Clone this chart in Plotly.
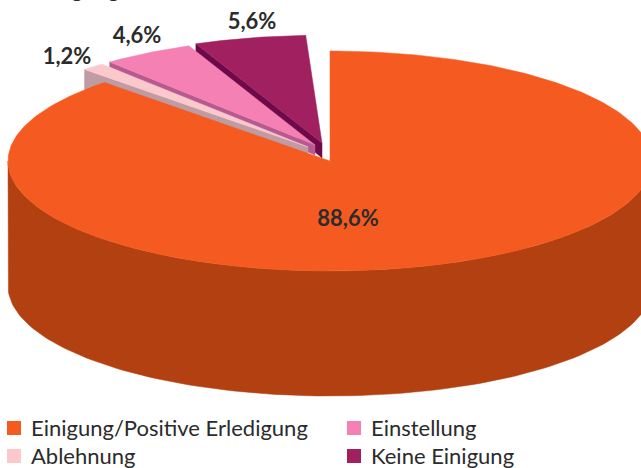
import numpy as np
import plotly.graph_objects as go

categories = ["Einigung/Positive Erledigung", "Ablehnung", "Einstellung", "Keine Einigung"]
values = [88.6, 1.2, 4.6, 5.6]
top_colors = ["#F55B20", "#FBC8CC", "#F580B4", "#A02060"]
side_colors = ["#B24010", "#BF9CA3", "#B65A90", "#6E0A4A"]

A, B = 322, 110           # ellipse radii
CX, CY = 330, 161         # centre of the main slice
DEPTH = 125               # height of the main slice
MAIN_K = 0.9893           # angular foreshortening of the main slice
PULLED_START = -2.9       # start angle of the exploded group
PULLED_B = 0.98           # slight flattening of the exploded slices
APEX = {1: (308, 147), 2: (315, 145), 3: (322, 143)}
WALL = {1: (20, 20), 2: (10, 5), 3: (15, 8)}   # wall height at apex, at outer end
LABEL_POS = [(348, 220), (67, 58), (137, 37), (252, 23)]


def arc(cx, cy, t0, t1, n=120, bscale=1.0):
    t = np.radians(np.linspace(t0, t1, n))
    return cx + A * np.sin(t), cy - B * bscale * np.cos(t)


def poly(fig, xs, ys, color):
    fig.add_trace(go.Scatter(x=list(xs), y=list(ys), mode="lines", fill="toself",
                             fillcolor=color, line=dict(color=color, width=0.5),
                             hoverinfo="skip", showlegend=False))


fig = go.Figure()

# exploded slices, back to front
end = PULLED_START
spans = {}
for i in (3, 2, 1):
    start = end
    end = start - values[i] * 3.6
    spans[i] = (start, end)
for i in (3, 2, 1):
    ax, ay = APEX[i]
    t0, t1 = spans[i]
    x, y = arc(ax, ay, t0, t1, 30, PULLED_B)
    d_apex, d_outer = WALL[i]
    poly(fig, [ax, x[-1], x[-1], ax, ax], [ay, y[-1], y[-1] + d_outer, ay + d_apex, ay], side_colors[i])
    poly(fig, np.r_[ax, x, ax], np.r_[ay, y, ay], top_colors[i])

# main slice
x, y = arc(CX, CY, 90, 270)
poly(fig, np.r_[x, x[::-1], x[0]], np.r_[y, (y + DEPTH)[::-1], y[0]], side_colors[0])
x, y = arc(CX, CY, 0, values[0] * 3.6 * MAIN_K, 300)
poly(fig, np.r_[CX, x, CX], np.r_[CY, y, CY], top_colors[0])

# value labels
fig.add_trace(go.Scatter(
    x=[p[0] for p in LABEL_POS], y=[p[1] for p in LABEL_POS], mode="text",
    text=[f"{v:.1f}%".replace(".", ",") for v in values],
    textposition="middle center",
    textfont=dict(family="Lato", size=22, color="#2b2b2b", weight="bold"),
    hoverinfo="skip", showlegend=False))

# legend
leg_x = [14, 14, 354, 354]
leg_y = [428, 456, 428, 456]
order = [0, 1, 2, 3]
fig.add_trace(go.Scatter(
    x=leg_x, y=leg_y, mode="markers",
    marker=dict(symbol="square", size=14, color=[top_colors[i] for i in order]),
    hoverinfo="skip", showlegend=False))
fig.add_trace(go.Scatter(
    x=[v + 17 for v in leg_x], y=[v + 2 for v in leg_y], mode="text",
    text=[categories[i] for i in order], textposition="middle right",
    textfont=dict(family="Lato", size=22, color="#2b2b2b"),
    hoverinfo="skip", showlegend=False))

fig.add_annotation(x=33, y=4, xref="x", yref="y", text="<b>Einigung</b>", showarrow=False,
                   xanchor="left", yanchor="bottom", font=dict(family="Lato", size=22, color="#2b2b2b"))

fig.update_layout(width=641, height=468, margin=dict(l=0, r=0, t=0, b=0),
                  paper_bgcolor="white", plot_bgcolor="white",
                  xaxis=dict(range=[0, 641], visible=False, fixedrange=True),
                  yaxis=dict(range=[468, 0], visible=False, fixedrange=True))
fig.write_html("out.html", config=dict(displayModeBar=False),
               post_script="document.body.style.margin='0';document.body.style.overflow='hidden';")
